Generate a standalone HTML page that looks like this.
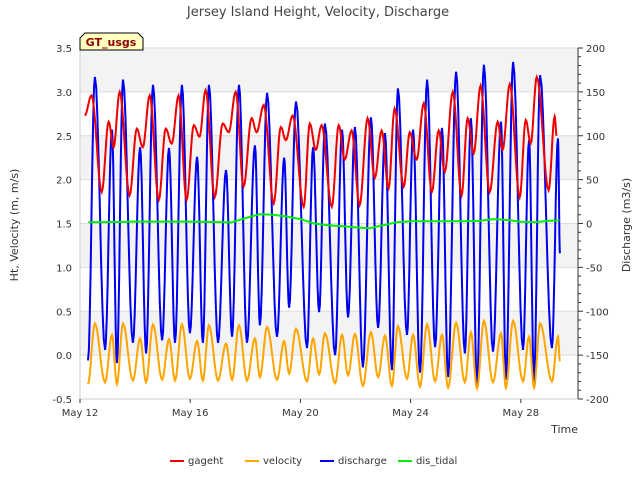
<!DOCTYPE html>
<html><head><meta charset="utf-8"><style>
body{margin:0;background:#fff;font-family:"Liberation Sans","DejaVu Sans",sans-serif;}
svg text{font-family:"DejaVu Sans","Liberation Sans",sans-serif;}
</style></head><body>
<svg id="c" width="640" height="480" viewBox="0 0 640 480" xmlns="http://www.w3.org/2000/svg">
<text x="318" y="16" text-anchor="middle" font-size="13" fill="#444">Jersey Island Height, Velocity, Discharge</text>
<g id="bands"></g><g id="grid"></g><g id="axes"></g><g id="series"></g>
<g><path d="M80,50 L80,38 L85,33 L138,33 L143,38 L143,50 Z" fill="#ffffc0" stroke="#000" stroke-width="1"/>
<text x="111" y="46" text-anchor="middle" font-size="11" font-weight="bold" fill="#8b0000">GT_usgs</text></g>
<text x="18" y="225" transform="rotate(-90 18 225)" text-anchor="middle" font-size="11" fill="#333">Ht, Velocity (m, m/s)</text>
<text x="630" y="225" transform="rotate(-90 630 225)" text-anchor="middle" font-size="11" fill="#333">Discharge (m3/s)</text>
<text x="578" y="433" text-anchor="end" font-size="11" fill="#333">Time</text>
<g id="legend"></g>
</svg>
<script>
const tickDays=[0,4,8,12,16];
const tickLabels=["May 12","May 16","May 20","May 24","May 28"];
const leftTicks=[-0.5,0,0.5,1,1.5,2,2.5,3,3.5];
const rightTicks=[-200,-150,-100,-50,0,50,100,150,200];
const extremeDays=[0.29,0.54,0.91,1.16,1.34,1.56,1.92,2.18,2.40,2.65,2.98,3.23,3.45,3.70,3.99,4.25,4.46,4.68,5.01,5.30,5.52,5.77,6.06,6.35,6.53,6.79,7.15,7.41,7.59,7.84,8.24,8.46,8.68,8.89,9.26,9.51,9.73,9.98,10.27,10.56,10.82,11.07,11.32,11.54,11.87,12.09,12.34,12.60,12.89,13.14,13.36,13.65,13.97,14.19,14.41,14.66,14.99,15.28,15.46,15.72,16.08,16.30,16.48,16.70,17.13,17.35,17.42];
const discharge=[-156,167,-144,107,-159,164,-136,87,-148,158,-133,86,-136,158,-125,76,-136,158,-136,61,-129,158,-136,89,-116,149,-129,75,-96,139,-142,87,-101,114,-150,107,-107,110,-164,121,-119,103,-167,154,-127,107,-170,164,-141,109,-175,173,-148,120,-184,181,-146,116,-178,184,-144,95,-181,169,-142,97,-34];
const gageht=[2.73,2.96,1.86,2.66,2.37,3.0,1.82,2.58,2.37,2.96,1.77,2.58,2.41,2.96,1.77,2.62,2.49,3.02,1.80,2.64,2.54,3.0,1.92,2.70,2.54,2.85,1.73,2.60,2.45,2.73,1.69,2.64,2.34,2.62,1.69,2.62,2.23,2.56,1.71,2.70,2.02,2.56,1.90,2.81,1.92,2.54,2.23,2.87,1.86,2.56,2.09,3.0,1.82,2.70,2.30,3.07,1.86,2.66,2.34,3.09,1.80,2.68,2.41,3.17,1.88,2.72,2.50];
const velocity=[-0.33,0.36,-0.31,0.23,-0.33,0.36,-0.29,0.19,-0.31,0.35,-0.28,0.18,-0.29,0.35,-0.27,0.16,-0.29,0.34,-0.29,0.13,-0.28,0.34,-0.29,0.19,-0.25,0.32,-0.28,0.16,-0.21,0.30,-0.30,0.19,-0.22,0.25,-0.32,0.23,-0.23,0.24,-0.35,0.26,-0.25,0.22,-0.35,0.33,-0.27,0.23,-0.36,0.35,-0.30,0.23,-0.37,0.37,-0.31,0.26,-0.38,0.39,-0.31,0.25,-0.37,0.39,-0.30,0.21,-0.37,0.36,-0.30,0.21,-0.07];
const tidalDays=[0.3,1,2,3,4,5,5.5,6,6.5,7,7.5,8,8.5,9,9.5,10,10.5,11,11.5,12,13,14,14.5,15,15.5,16,16.5,17,17.4];
const disTidal=[1.4,1.6,2.2,2.2,2.2,1.6,1.2,6,10.5,10,8,5,0,-2,-3,-4.5,-5.5,-2,1.5,2.5,2.5,2.5,3,5,4,2,1.5,3,3.5];

const X0=80,X1=578,YT=48,YB=399;
const xs=d=>80+d*27.55;
const yl=v=>YB-(v+0.5)/4*(YB-YT);
const yr=v=>YB-(v+200)/400*(YB-YT);
const NS="http://www.w3.org/2000/svg";
function mk(tag,attrs,parent){const e=document.createElementNS(NS,tag);for(const k in attrs)e.setAttribute(k,attrs[k]);parent.appendChild(e);return e;}
const bands=document.getElementById('bands'),grid=document.getElementById('grid'),axes=document.getElementById('axes'),series=document.getElementById('series'),legend=document.getElementById('legend');
const bg=mk('rect',{x:X0,y:YT,width:X1-X0,height:YB-YT,fill:'#fff'},bands);


[[3,3.5],[2,2.5],[1,1.5],[0,0.5]].forEach(b=>{const r=mk('rect',{x:X0,y:yl(b[1]),width:X1-X0,height:yl(b[0])-yl(b[1]),fill:'#f3f3f3'},bands);

});
leftTicks.forEach(v=>{const l=mk('line',{x1:X0,x2:X1,y1:yl(v),y2:yl(v),stroke:'#dcdcdc','stroke-width':1},grid);


const t=mk('text',{x:72,y:yl(v)+4,'text-anchor':'end','font-size':10,fill:'#333'},axes);t.textContent=v.toFixed(1);

});
rightTicks.forEach(v=>{const t=mk('text',{x:586,y:yr(v)+4,'font-size':10,fill:'#333'},axes);t.textContent=v;


mk('line',{x1:X1,x2:X1+5,y1:yr(v),y2:yr(v),stroke:'#333'},axes);});
for(let v=-190;v<200;v+=10){if(v%50)mk('line',{x1:X1,x2:X1+3,y1:yr(v),y2:yr(v),stroke:'#333'},axes);}
mk('line',{x1:X1,x2:X1,y1:YT,y2:YB,stroke:'#333'},axes);
mk('line',{x1:X0,x2:X0,y1:YT,y2:YB,stroke:'#ccc'},axes);
mk('line',{x1:X0,x2:X1,y1:YB,y2:YB,stroke:'#ccc'},axes);
tickDays.forEach((d,i)=>{const t=mk('text',{x:xs(d),y:416,'text-anchor':'middle','font-size':10,fill:'#333'},axes);t.textContent=tickLabels[i];


mk('line',{x1:xs(d),x2:xs(d),y1:YB,y2:YB+4,stroke:'#333'},axes);});
function smoothPath(ts,vs,ysc,off){let p='';for(let i=0;i<ts.length;i++){if(i==0){p+='M'+xs(ts[0]+off).toFixed(1)+','+ysc(vs[0]).toFixed(1);continue;}
const a=vs[i-1],b=vs[i],t0=ts[i-1],t1=ts[i];for(let k=1;k<=8;k++){const f=k/8,v=a+(b-a)*(1-Math.cos(Math.PI*f))/2;p+=' L'+xs(t0+(t1-t0)*f+off).toFixed(1)+','+ysc(v).toFixed(1);}}return p;}
function linePath(ts,vs,ysc){return ts.map((t,i)=>(i?'L':'M')+xs(t).toFixed(1)+','+ysc(vs[i]).toFixed(1)).join(' ');}
const pd=mk('path',{d:smoothPath(extremeDays,discharge,yr,0),fill:'none',stroke:'#0000ee','stroke-width':2},series);


const pg=mk('path',{d:smoothPath(extremeDays,gageht,yl,-0.12),fill:'none',stroke:'#ee0000','stroke-width':2},series);


const pv=mk('path',{d:smoothPath(extremeDays,velocity,yl,0),fill:'none',stroke:'#ffa500','stroke-width':2},series);


const pt=mk('path',{d:linePath(tidalDays,disTidal,yr),fill:'none',stroke:'#00ee00','stroke-width':2},series);


const leg=[['gageht','#ee0000',170],['velocity','#ffa500',245],['discharge','#0000ee',320],['dis_tidal','#00ee00',398]];
leg.forEach(l=>{const g=mk('g',{},legend);


mk('line',{x1:l[2],x2:l[2]+14,y1:461,y2:461,stroke:l[1],'stroke-width':2},g);
const t=mk('text',{x:l[2]+18,y:464,'font-size':10,fill:'#333'},g);t.textContent=l[0];});
</script>
</body></html>
